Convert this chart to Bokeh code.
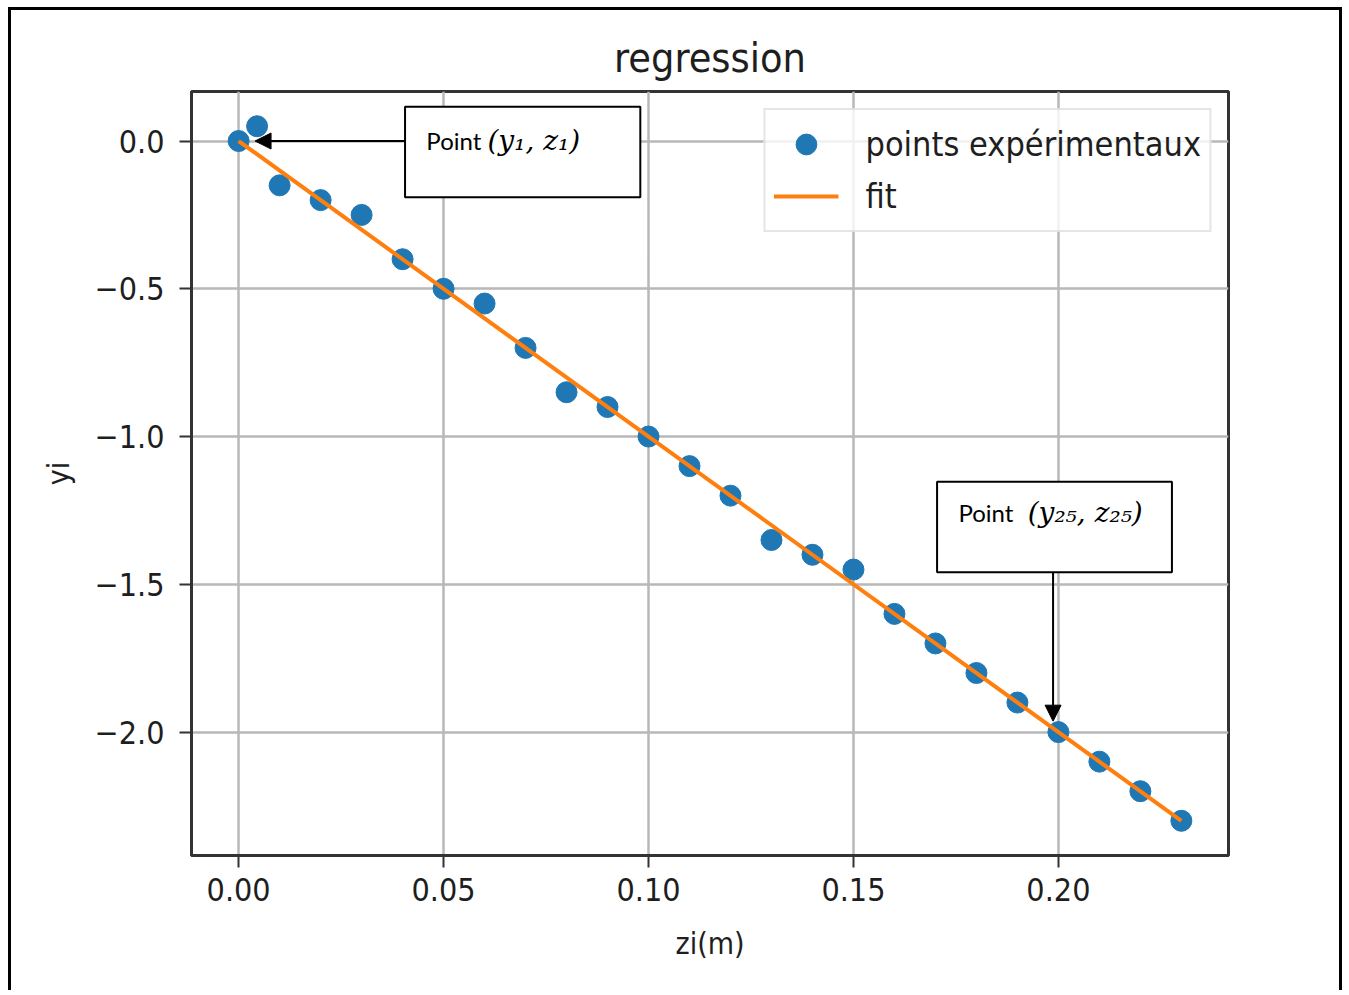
from bokeh.plotting import figure
from bokeh.models import (Range1d, FixedTicker, BoxAnnotation, Label, Arrow,
                          NormalHead, Legend, LegendItem)
from bokeh.embed import file_html
from bokeh.resources import INLINE

# ---- data ----
zi = [0.0, 0.0045, 0.01, 0.02, 0.03, 0.04, 0.05, 0.06, 0.07, 0.08, 0.09, 0.10,
      0.11, 0.12, 0.13, 0.14, 0.15, 0.16, 0.17, 0.18, 0.19, 0.20, 0.21, 0.22, 0.23]
yi = [0.0, 0.05, -0.15, -0.20, -0.25, -0.40, -0.50, -0.55, -0.70, -0.85, -0.90,
      -1.00, -1.10, -1.20, -1.35, -1.40, -1.45, -1.60, -1.70, -1.80, -1.90,
      -2.00, -2.10, -2.20, -2.30]
fit_z = [0.0, 0.23]
fit_y = [0.0, -2.30]

x_ticks = [0.0, 0.05, 0.10, 0.15, 0.20]
x_tick_labels = ["0.00", "0.05", "0.10", "0.15", "0.20"]
y_ticks = [0.0, -0.5, -1.0, -1.5, -2.0]
y_tick_labels = ["0.0", "\u22120.5", "\u22121.0", "\u22121.5", "\u22122.0"]

FONT = "DejaVu Sans Condensed"
TXT = "#1e1e1e"
W, H = 1346, 990

p = figure(width=W, height=H,
           x_range=Range1d(-0.0115, 0.2415), y_range=Range1d(-2.4175, 0.1675),
           output_backend="svg", toolbar_location=None,
           min_border_left=191, min_border_right=118,
           min_border_top=91, min_border_bottom=135,
           title="regression")
p.title.align = "center"
p.title.text_font = FONT
p.title.text_font_size = "41px"
p.title.text_font_style = "normal"
p.title.text_color = TXT
p.title.standoff = 20

p.border_fill_color = None
p.background_fill_color = "white"
# outer frame of the picture (left, top and right edges; bottom is cut off)
p.styles = {
    "background": ("linear-gradient(#000,#000) 8px 7px / 3px 100% no-repeat, "
                   "linear-gradient(#000,#000) 8px 7px / 1334px 3px no-repeat, "
                   "linear-gradient(#000,#000) 1339px 7px / 3px 100% no-repeat, "
                   "#ffffff"),
}

p.outline_line_color = "#333333"
p.outline_line_width = 3
p.grid.grid_line_color = "#b8b8b8"
p.grid.grid_line_width = 2.5

p.xaxis.ticker = FixedTicker(ticks=x_ticks)
p.yaxis.ticker = FixedTicker(ticks=y_ticks)
p.xaxis.major_label_overrides = dict(zip(x_ticks, x_tick_labels))
p.yaxis.major_label_overrides = dict(zip(y_ticks, y_tick_labels))
p.xaxis.axis_label = "zi(m)"
p.yaxis.axis_label = "yi"
for ax in (p.xaxis, p.yaxis):
    ax.axis_line_color = "#333333"
    ax.axis_line_width = 3
    ax.major_tick_out = 12
    ax.major_tick_in = 0
    ax.major_tick_line_width = 2
    ax.major_tick_line_color = "#333333"
    ax.minor_tick_line_color = None
    ax.major_label_text_font = FONT
    ax.major_label_text_font_size = "32px"
    ax.major_label_text_color = TXT
    ax.axis_label_text_font = FONT
    ax.axis_label_text_font_size = "30px"
    ax.axis_label_text_font_style = "normal"
    ax.axis_label_text_color = TXT
p.xaxis.major_label_standoff = 10
p.xaxis.axis_label_standoff = 22
p.yaxis.major_label_standoff = 15
p.yaxis.axis_label_standoff = 16

sc = p.scatter(zi, yi, size=21, color="#1f77b4")
ln = p.line(fit_z, fit_y, line_color="#ff7f0e", line_width=4)

legend = Legend(items=[LegendItem(label="points expérimentaux", renderers=[sc]),
                       LegendItem(label="fit", renderers=[ln])],
                location="top_right", margin=17, padding=8, spacing=0,
                glyph_width=65, glyph_height=52, label_height=52,
                label_standoff=27, label_text_font=FONT,
                label_text_font_size="34px", label_text_color=TXT,
                border_line_color="#cccccc", border_line_width=2,
                background_fill_alpha=0.8)
p.add_layout(legend)

# ---- annotation boxes ----
box_style = dict(fill_color="white", fill_alpha=1.0, line_color="black",
                 line_alpha=1.0, line_width=2)
p.add_layout(BoxAnnotation(left=0.0406, right=0.0980, top=0.116, bottom=-0.190,
                           **box_style))
p.add_layout(BoxAnnotation(left=0.1704, right=0.2277, top=-1.153, bottom=-1.459,
                           **box_style))

head = dict(size=16, fill_color="black", line_color="black")
p.add_layout(Arrow(end=NormalHead(**head), x_start=0.0406, y_start=0.0,
                   x_end=0.0040, y_end=0.0, line_width=2, line_color="black"))
p.add_layout(Arrow(end=NormalHead(**head), x_start=0.1987, y_start=-1.459,
                   x_end=0.1987, y_end=-1.963, line_width=2, line_color="black"))

lab_sans = dict(text_font="Lato", text_font_size="24px", text_baseline="middle",
                text_color="black")
lab_math = dict(text_font="DejaVu Serif", text_font_style="italic",
                text_font_size="28px", text_baseline="middle", text_color="black")
p.add_layout(Label(x=0.0458, y=0.0017, text="Point", **lab_sans))
p.add_layout(Label(x=0.0607, y=0.0017, text="(y\u2081, z\u2081)", **lab_math))
p.add_layout(Label(x=0.1756, y=-1.257, text="Point", **lab_sans))
p.add_layout(Label(x=0.1925, y=-1.257, text="(y\u2082\u2085, z\u2082\u2085)", **lab_math))

open("out.html", "w").write(file_html(p, INLINE))
